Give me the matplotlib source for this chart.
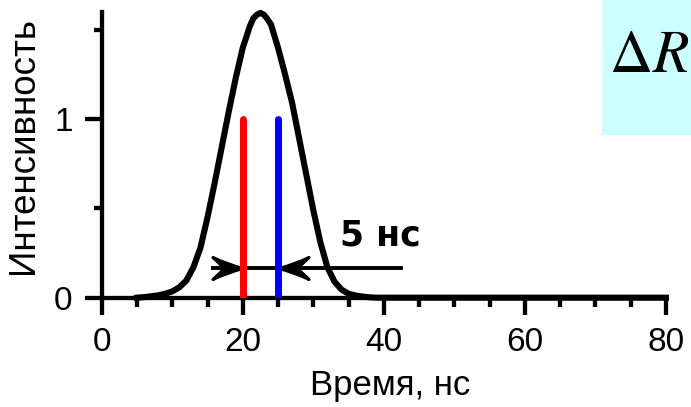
import matplotlib
matplotlib.use("Agg")
import matplotlib.pyplot as plt
from matplotlib.path import Path
from matplotlib.patches import Rectangle
from matplotlib.transforms import Affine2D

# pulse shape
time = [5, 6, 7, 8, 9, 10, 11, 12, 13, 14, 15, 16, 17, 18, 19, 20, 21, 21.5, 22, 22.5,
        23, 23.5, 24, 25, 26, 27, 28, 29, 30, 31, 32, 33, 34, 35, 36, 37, 38, 39, 40, 80]
intensity = [0, 0.003, 0.008, 0.013, 0.022, 0.035, 0.058, 0.096, 0.17, 0.28, 0.45, 0.64,
             0.84, 1.04, 1.23, 1.40, 1.52, 1.565, 1.585, 1.595, 1.585, 1.56, 1.53, 1.40,
             1.25, 1.09, 0.89, 0.69, 0.49, 0.31, 0.17, 0.09, 0.045, 0.022, 0.012, 0.006,
             0.002, 0, 0, 0]

# two probe pulses
red_t, blue_t = 20, 25
probe_h = 1.0

# arrow marking the 5 ns delay
arrow_y = 0.168
arrow_x0, arrow_x1 = 15.8, 42.5

plt.rcParams["font.family"] = ["Liberation Sans", "DejaVu Sans"]
plt.rcParams["font.size"] = 24

fig = plt.figure(figsize=(6.91, 4.07), dpi=100)
ax = fig.add_axes([0.1472, 0.2686, 0.8166, 0.7019])

ax.plot(time, intensity, color="black", lw=4.4, clip_on=False, zorder=3,
        solid_joinstyle="round")
ax.plot([red_t, red_t], [0, probe_h], color="red", lw=5, solid_capstyle="round", zorder=7)
ax.plot([blue_t, blue_t], [0, probe_h], color="blue", lw=5, solid_capstyle="round", zorder=7)

# stealth arrow heads (tip at the origin)
head = Path([(0, 0), (-0.5, 0.12), (-1, 0.36), (-0.62, 0), (-1, -0.36), (-0.5, -0.12), (0, 0), (0, 0)],
            [Path.MOVETO, Path.CURVE3, Path.CURVE3, Path.LINETO, Path.LINETO,
             Path.CURVE3, Path.CURVE3, Path.CLOSEPOLY])
head_left = head.transformed(Affine2D().scale(-1, 1))
ax.plot([arrow_x0, arrow_x1], [arrow_y, arrow_y], color="black", lw=2.8, zorder=5)
ax.plot([red_t], [arrow_y], marker=head, ms=44, color="black", mew=2.2, zorder=6)
ax.plot([blue_t], [arrow_y], marker=head_left, ms=44, color="black", mew=2.2, zorder=6)

ax.text(39.5, 0.294, "5 нс", family="DejaVu Sans", weight="bold", fontsize=25,
        ha="center", va="baseline")

ax.set_xlim(0, 80)
ax.set_ylim(0, 1.6)
ax.set_xticks([0, 20, 40, 60, 80])
ax.set_xticks(range(0, 81, 5), minor=True)
ax.set_yticks([0, 1])
ax.set_yticks([0.5, 1.5], minor=True)
for s in ["top", "right"]:
    ax.spines[s].set_visible(False)
for s in ["left", "bottom"]:
    ax.spines[s].set_linewidth(3.1)
ax.tick_params(axis="both", which="both", direction="out", width=3.1)
ax.tick_params(axis="x", which="major", length=12.2, pad=9)
ax.tick_params(axis="x", which="minor", length=6.5)
ax.tick_params(axis="y", which="major", length=12.5, pad=8.5)
ax.tick_params(axis="y", which="minor", length=5.5)

ax.set_xlabel("Время, нс", va="baseline", fontsize=25)
ax.xaxis.set_label_coords(0.511, -0.3406)
fig.text(24 / 691, 1 - 145 / 407, "Интенсивность", rotation=90, ha="center", va="center",
         fontsize=26.5)

fig.patches.append(Rectangle((0.871, 0.668), 0.129, 0.332, transform=fig.transFigure,
                             facecolor="#ccffff", edgecolor="none", zorder=1))
fig.text(0.939, 0.823, r"$\Delta R$", math_fontfamily="stix", fontsize=43,
         ha="center", va="baseline", zorder=2)

fig.savefig("out.png", dpi=100)
